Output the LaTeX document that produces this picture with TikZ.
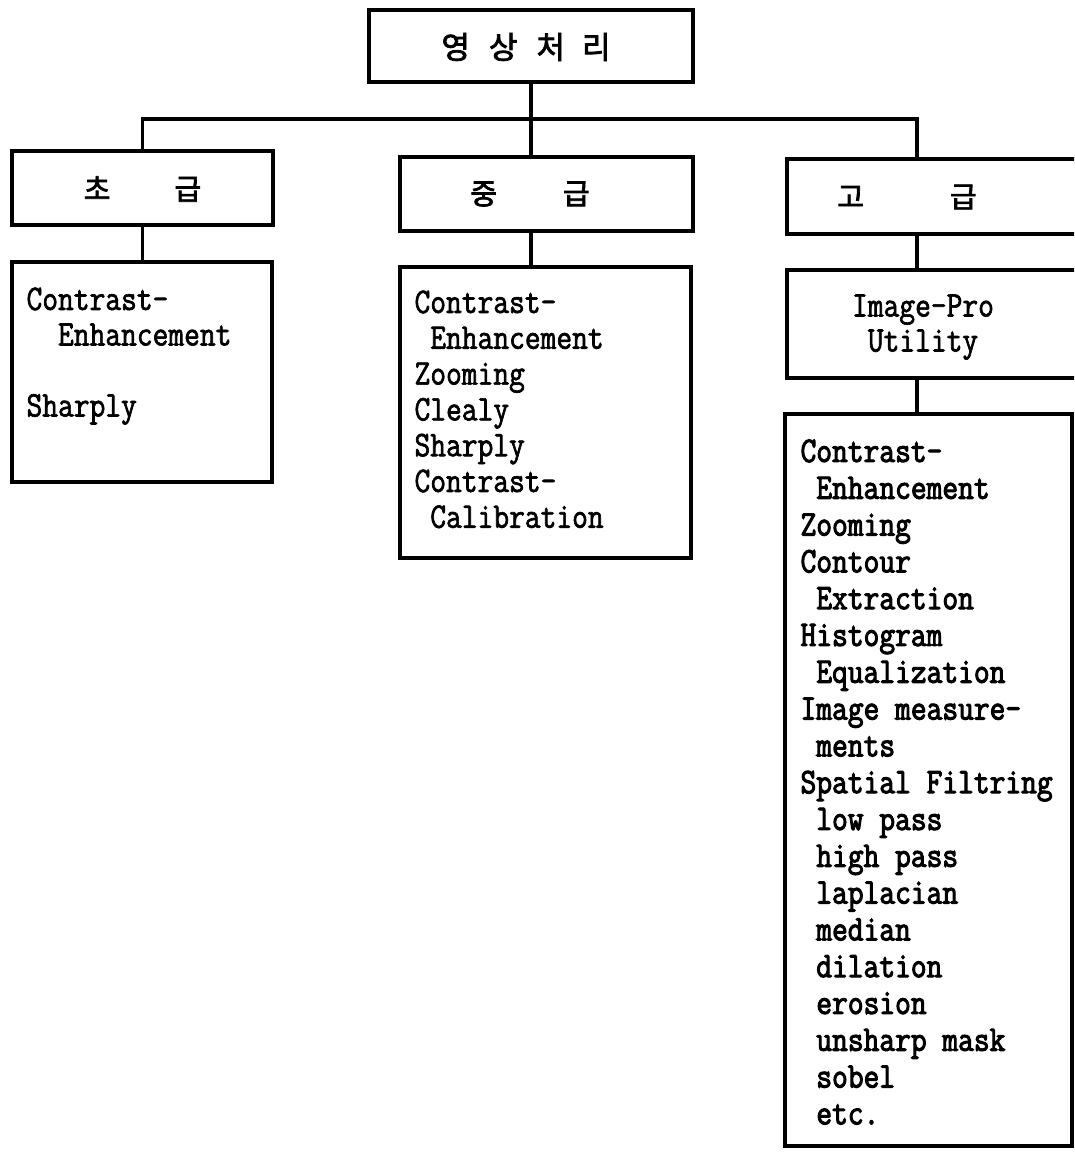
\documentclass[tikz,border=0pt]{standalone}
\usepackage{fontspec}
\newfontfamily\krfont[FakeBold=2.5]{Noto Sans CJK KR}
\newfontfamily\monoreg[FakeStretch=0.85,FakeBold=1.8]{Latin Modern Mono}
\newfontfamily\monobold[FakeStretch=0.85,FakeBold=2.8]{Latin Modern Mono}
\begin{document}
\begin{tikzpicture}[x=1pt,y=-1pt,line width=3.1pt]
\tikzset{
  box/.style={draw,rectangle,inner sep=0pt,line width=3.1pt},
  krlabel/.style={inner sep=0pt,font=\krfont\fontsize{29}{31}\selectfont},
  listtext/.style={inner sep=0pt,anchor=north west,align=left,
    execute at begin node=\rule{0pt}{26pt}},
}
\useasboundingbox (0,0) rectangle (1074,1153);
\clip (0,0) rectangle (1074,1153);
\fill[white] (0,0) rectangle (1074,1153);

% root
\node[box,minimum width=324pt,minimum height=72pt] (top) at (531,46) {};
\node[krlabel,font=\krfont\fontsize{31}{33}\selectfont] (topT) at (526,47)
  {영\hspace{19pt}상\hspace{19pt}처\hspace{17pt}리};

% level boxes
\node[box,minimum width=261pt,minimum height=74pt] (beg) at (142.5,188) {};
\node[krlabel] (begT) at (142.5,189) {초\hspace{64pt}급};
\node[box,minimum width=293pt,minimum height=74pt] (mid) at (546.5,194) {};
\node[krlabel] (midT) at (530,194) {중\hspace{66pt}급};
\node[box,minimum width=333pt,minimum height=75pt] (adv) at (953.5,196.5) {};
\node[krlabel] (advT) at (907,197) {고\hspace{86pt}급};

\node[box,minimum width=333pt,minimum height=108pt] (ipu) at (953.5,324) {};
\node[inner sep=0pt,anchor=north,align=center,
  font=\monoreg\fontsize{36}{35}\selectfont,
  execute at begin node=\rule{0pt}{26pt}] (ipuT) at (923,293)
  {Image-Pro\\Utility};

% content boxes
\node[box,minimum width=260pt,minimum height=220pt] (begL) at (142,372) {};
\node[box,minimum width=291pt,minimum height=291pt] (midL) at (545.5,412.5) {};
\node[box,minimum width=287pt,minimum height=732pt] (advL) at (928.5,780) {};

\node[listtext,font=\monoreg\fontsize{36}{35.5}\selectfont] (begLT) at (25,286)
  {Contrast-\\~~Enhancement\\\mbox{}\\Sharply};
\node[listtext,font=\monoreg\fontsize{36}{35.8}\selectfont] (midLT) at (413,289)
  {Contrast-\\~Enhancement\\Zooming\\Clealy\\Sharply\\Contrast-\\~Calibration};
\node[listtext,font=\monobold\fontsize{36}{36.8}\selectfont] (advLT) at (799,438)
  {Contrast-\\~Enhancement\\Zooming\\Contour\\~Extraction\\Histogram\\~Equalization\\
   Image measure-\\~ments\\Spatial Filtring\\~low pass\\~high pass\\~laplacian\\
   ~median\\~dilation\\~erosion\\~unsharp mask\\~sobel\\~etc.};

% connectors
\coordinate (jn) at (531,119);
\coordinate (rc) at (917,119);
\draw (top.south) -- (jn);
\draw (beg.north) |- (jn) -- (rc) -- (adv.north -| rc);
\draw (jn) -- (mid.north -| jn);
\draw (beg.south) -- (beg.south |- begL.north);
\draw (mid.south -| jn) -- (midL.north -| jn);
\draw (adv.south -| rc) -- (ipu.north -| rc);
\draw (ipu.south -| rc) -- (advL.north -| rc);
\end{tikzpicture}
\end{document}
